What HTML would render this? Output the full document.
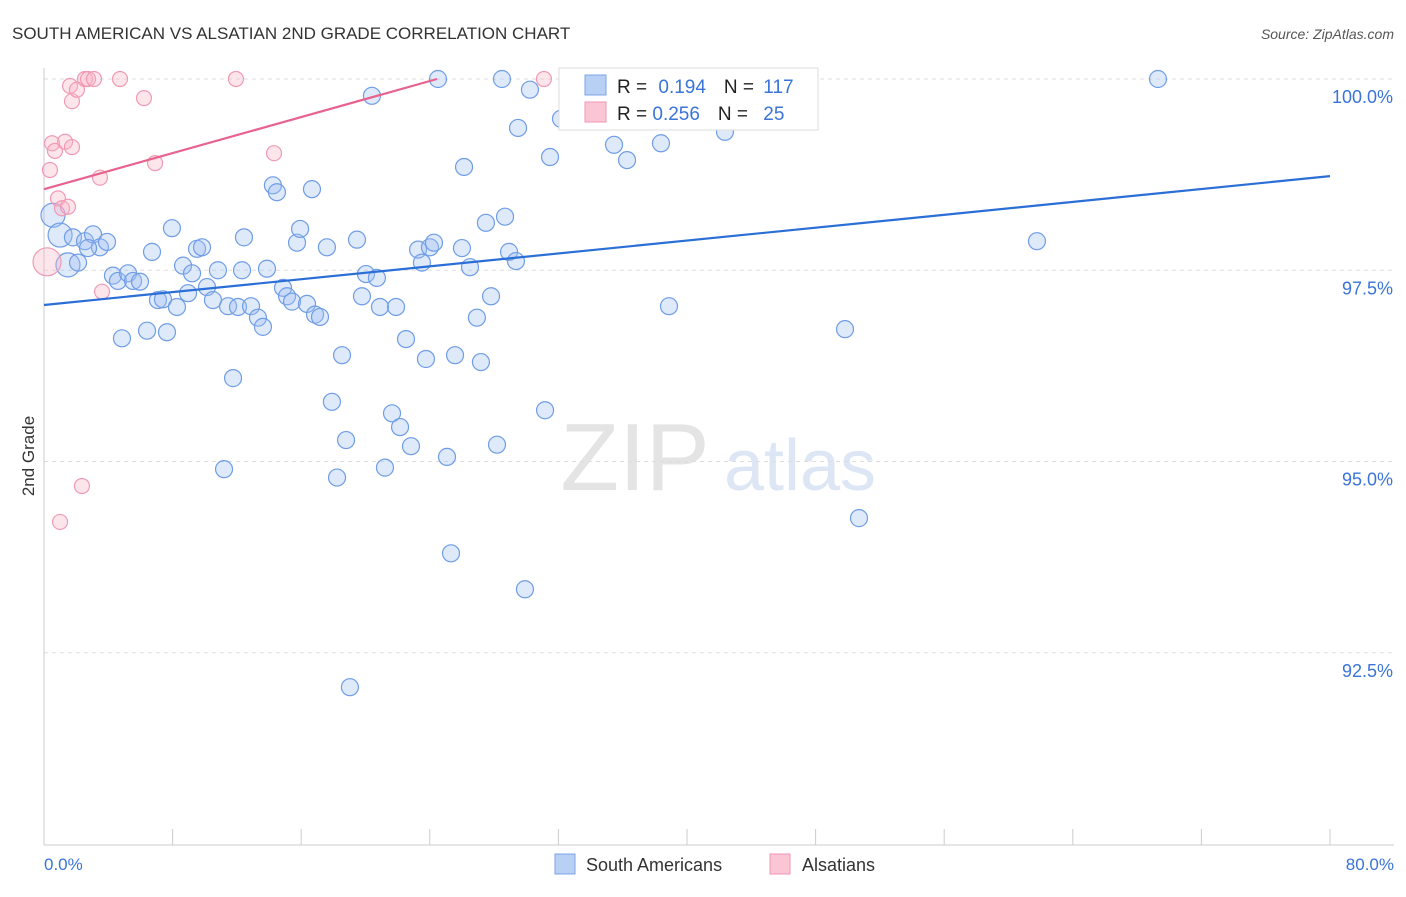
<!DOCTYPE html>
<html><head><meta charset="utf-8"><style>
body{margin:0;background:#fff;font-family:"Liberation Sans",sans-serif}
svg text{font-family:"Liberation Sans",sans-serif}
</style></head><body>
<svg id="c" width="1406" height="892" xmlns="http://www.w3.org/2000/svg">
<text x="12" y="39" font-size="17" fill="#333">SOUTH AMERICAN VS ALSATIAN 2ND GRADE CORRELATION CHART</text>
<text x="1394" y="39" font-size="14" fill="#555" font-style="italic" text-anchor="end">Source: ZipAtlas.com</text>
<text x="635" y="490" font-size="96" fill="#e4e4e4" font-family="Liberation Serif" text-anchor="middle">ZIP</text>
<text x="800" y="490" font-size="72" fill="#dde6f4" text-anchor="middle">atlas</text>
<g id="grid"></g><g id="axes"></g><g id="pts"></g><g id="lines"></g>
<text transform="translate(34,456) rotate(-90)" font-size="17" fill="#333" text-anchor="middle">2nd Grade</text>
<text x="44" y="870" font-size="17" fill="#3a74d8">0.0%</text>
<text x="1394" y="870" font-size="17" fill="#3a74d8" text-anchor="end">80.0%</text>
<g>
<rect x="559" y="68" width="259" height="62" fill="#fff" stroke="#ddd"/>
<rect x="585" y="75" width="21" height="20" fill="#b9d0f5" stroke="#7ba4e8"/>
<rect x="585" y="102" width="21" height="20" fill="#fac6d6" stroke="#f095b2"/>
<text x="617" y="93" font-size="19" fill="#222">R = <tspan fill="#3a74d8" dx="6">0.194</tspan><tspan dx="18">N = </tspan><tspan fill="#3a74d8" dx="4">117</tspan></text>
<text x="617" y="120" font-size="19" fill="#222">R = <tspan fill="#3a74d8">0.256</tspan><tspan dx="18">N = </tspan><tspan fill="#3a74d8" dx="10">25</tspan></text>
</g>
<g>
<rect x="555" y="854" width="20" height="20" fill="#b9d0f5" stroke="#7ba4e8"/>
<text x="586" y="871" font-size="18" fill="#333">South Americans</text>
<rect x="770" y="854" width="20" height="20" fill="#fac6d6" stroke="#f095b2"/>
<text x="802" y="871" font-size="18" fill="#333">Alsatians</text>
</g>
</svg>
<script>
const blueX=[0.56,1.0,1.49,1.8,2.12,2.55,3.05,3.48,3.92,2.74,4.29,4.6,5.23,5.54,5.97,4.85,6.41,6.72,7.09,7.4,7.65,7.96,8.27,8.65,8.96,9.21,9.52,9.83,10.14,10.51,10.82,11.2,11.45,11.76,12.07,12.32,12.44,12.88,13.31,13.62,13.87,14.24,14.49,14.87,15.12,15.43,15.74,15.93,16.36,16.67,16.86,17.17,17.6,17.91,18.23,18.54,18.79,19.03,19.47,19.78,20.03,20.4,20.71,20.9,21.21,21.65,21.9,22.15,22.52,22.83,23.27,23.51,23.76,24.01,24.26,24.51,25.07,25.32,25.57,26.0,26.13,26.5,26.93,27.18,27.49,27.81,28.18,28.49,28.68,28.93,29.36,29.49,29.92,30.23,31.17,31.48,32.16,32.66,34.84,35.46,36.27,37.08,38.38,38.88,39.63,41.06,42.36,61.77,49.83,50.7,69.3];
const blueY=[98.22,97.96,97.57,97.93,97.6,97.88,97.97,97.8,97.87,97.79,97.43,97.36,97.46,97.36,97.35,96.61,96.71,97.74,97.11,97.12,96.69,98.05,97.02,97.56,97.2,97.46,97.78,97.8,97.28,97.11,97.5,94.9,97.03,96.09,97.02,97.5,97.93,97.03,96.88,96.76,97.52,98.61,98.52,97.27,97.16,97.09,97.86,98.04,97.06,98.56,96.92,96.89,97.8,95.78,94.79,96.39,95.28,92.05,97.9,97.16,97.45,99.78,97.4,97.02,94.92,95.63,97.02,95.45,96.6,95.2,97.77,97.6,96.34,97.8,97.86,100,95.06,93.8,96.39,97.79,98.85,97.54,96.88,96.3,98.12,97.16,95.22,100,98.2,97.74,97.62,99.36,93.33,99.86,95.67,98.98,99.48,100,100,99.14,98.94,99.59,99.16,97.03,99.78,99.86,99.31,97.88,96.73,94.26,100];
const pinkX=[0.19,0.37,0.5,0.68,0.87,1.12,1.31,1.49,1.74,1.62,1.74,2.05,2.55,2.74,3.11,3.48,3.61,4.73,6.22,6.91,11.94,14.31,2.36,1.0,31.1];
const pinkY=[97.61,98.81,99.16,99.06,98.44,98.31,99.18,98.33,99.11,99.91,99.71,99.86,100,100,100,98.71,97.22,100,99.75,98.9,100,99.03,94.68,94.21,100];
const yTicks=[100,97.5,95,92.5];
const yTickLabels=["100.0%","97.5%","95.0%","92.5%"];
const blueTrend=[[0,97.046],[80,98.73]];
const pinkTrend=[[0,98.56],[24.45,100]];
const X=v=>44+v*16.075, Y=v=>79+(100-v)*76.5;
const NS="http://www.w3.org/2000/svg";
function mk(t,a,p){const e=document.createElementNS(NS,t);for(const k in a)e.setAttribute(k,a[k]);document.getElementById(p).appendChild(e);return e;}
yTicks.forEach((t,i)=>{
 const l=mk('line',{x1:44,x2:1394,y1:Y(t),y2:Y(t),stroke:'#ddd','stroke-dasharray':'4,4'},'grid');
 
 
 const tx=mk('text',{x:1393,y:Y(t)+24,'font-size':18,fill:'#3a74d8','text-anchor':'end'},'grid');
 tx.textContent=yTickLabels[i];
 
 
});
const ax=mk('line',{x1:44,x2:44,y1:68,y2:845,stroke:'#ccc'},'axes');


const bx=mk('line',{x1:44,x2:1394,y1:845,y2:845,stroke:'#ccc'},'axes');


for(let v=0;v<=80;v+=8){
 const t=mk('line',{x1:X(v),x2:X(v),y1:829,y2:845,stroke:'#ccc'},'axes');
 
 
}
blueX.forEach((x,i)=>{
 const r=i<3?12:8.5;
 const c=mk('circle',{cx:X(x),cy:Y(blueY[i]),r:r,fill:'rgba(160,192,240,0.35)',stroke:'#6f9de6','stroke-width':1.2},'pts');
 
 
});
pinkX.forEach((x,i)=>{
 const r=i==0?14:7.5;
 const c=mk('circle',{cx:X(x),cy:Y(pinkY[i]),r:r,fill:'rgba(248,180,200,0.35)',stroke:'#f09ab5','stroke-width':1.2},'pts');
 
 
});
const bl=mk('line',{x1:X(blueTrend[0][0]),y1:Y(blueTrend[0][1]),x2:X(blueTrend[1][0]),y2:Y(blueTrend[1][1]),stroke:'#2b6fd6','stroke-width':2.2},'lines');


const pl=mk('line',{x1:X(pinkTrend[0][0]),y1:Y(pinkTrend[0][1]),x2:X(pinkTrend[1][0]),y2:Y(pinkTrend[1][1]),stroke:'#e8628e','stroke-width':2.2},'lines');


</script>
</body></html>
